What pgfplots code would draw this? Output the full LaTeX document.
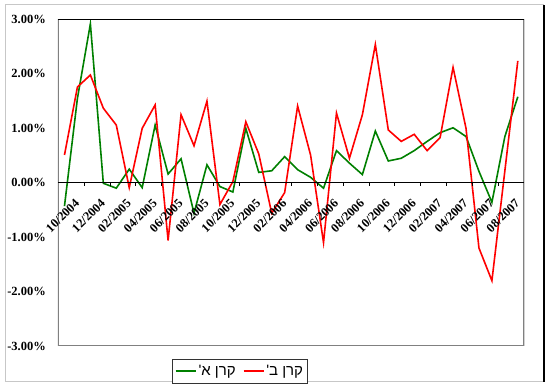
\documentclass[border=0pt]{standalone}
\usepackage{pgfplots}
\usepackage{pgfplotstable}
\pgfplotsset{compat=1.18}
\usepackage{fontspec}
\setmainfont{Liberation Serif}
\newfontfamily\hebfont[Script=Hebrew]{Liberation Sans}
\TeXXeTstate=1
\definecolor{xlgreen}{RGB}{0,128,0}
\definecolor{xlred}{RGB}{255,0,0}
\definecolor{xlgray}{RGB}{128,128,128}
\newcommand{\tlfont}{\fontsize{12.5}{14}\selectfont\bfseries}
\pgfplotstableread{
i red green
0 0.51 -0.43
1 1.76 1.55
2 1.98 2.92
3 1.37 -0.01
4 1.06 -0.10
5 -0.09 0.25
6 1.00 -0.09
7 1.43 1.06
8 -1.06 0.16
9 1.25 0.44
10 0.68 -0.56
11 1.50 0.33
12 -0.40 -0.07
13 0.02 -0.17
14 1.12 1.00
15 0.53 0.19
16 -0.56 0.22
17 -0.18 0.48
18 1.41 0.24
19 0.51 0.10
20 -1.10 -0.10
21 1.28 0.59
22 0.45 0.36
23 1.25 0.15
24 2.54 0.95
25 0.97 0.40
26 0.76 0.45
27 0.89 0.59
28 0.59 0.76
29 0.83 0.92
30 2.12 1.01
31 1.00 0.85
32 -1.20 0.21
33 -1.80 -0.36
34 0.22 0.85
35 2.24 1.58
}\datatable
\begin{document}
\begin{tikzpicture}[x=1pt,y=1pt]
\useasboundingbox (0,0) rectangle (550,387);
\fill[white] (0,0) rectangle (550,387);
\draw[black!22, line width=1pt] (5,5) -- (5,382) -- (544,382);
\draw[black!22, line width=1pt] (5,5.5) -- (544,5.5);
\draw[black, line width=1.2pt] (544,5) -- (544,382);
\begin{axis}[
  at={(58pt,41pt)}, anchor=south west,
  width=466.3pt, height=326.5pt, scale only axis,
  xmin=-0.5, xmax=35.5, ymin=-3, ymax=3,
  xtick=\empty,
  ytick={-3,-2,-1,0,1,2,3},
  yticklabels={-3.00\%,-2.00\%,-1.00\%,0.00\%,1.00\%,2.00\%,3.00\%},
  major tick length=0pt,
  yticklabel style={anchor=east, inner sep=0pt, xshift=-12pt, font=\tlfont},
  axis line style={draw=none},
  legend style={at={(0.2445,-0.0398)}, anchor=north west, draw=black!80, fill=white,
    line width=0.8pt, font=\hebfont\fontsize{15}{17}\selectfont,
    inner xsep=2.5pt, inner ysep=4pt,
    /tikz/every even column/.append style={column sep=5pt}},
  legend columns=2,
  legend image code/.code={\draw[#1] (0pt,0pt) -- (20pt,0pt);},
]
\addplot[xlgreen, line width=1.6pt] table[x=i, y=green] {\datatable};
\addlegendentry{\beginR קרן א'\endR}
\addplot[xlred, line width=1.6pt] table[x=i, y=red] {\datatable};
\addlegendentry{\beginR קרן ב'\endR}
\draw[xlgray, line width=1.6pt] (rel axis cs:0,1) -- (rel axis cs:0,0) -- (rel axis cs:1,0) -- (rel axis cs:1,1);
\draw[black, line width=0.9pt] (rel axis cs:0,1) -- (rel axis cs:1,1);
\end{axis}
\begin{axis}[
  at={(58pt,41pt)}, anchor=south west,
  width=466.3pt, height=326.5pt, scale only axis,
  xmin=-0.5, xmax=35.5, ymin=-3, ymax=3,
  axis x line=middle, axis y line=none,
  x axis line style={-, black, line width=0.9pt},
  xtick={1.5,3.5,5.5,7.5,9.5,11.5,13.5,15.5,17.5,19.5,21.5,23.5,25.5,27.5,29.5,31.5,33.5},
  xticklabels={},
  xtick align=outside, major tick length=3pt,
  xtick style={black, line width=0.6pt},
  extra x ticks={0,2,4,6,8,10,12,14,16,18,20,22,24,26,28,30,32,34},
  extra x tick labels={10/2004,12/2004,02/2005,04/2005,06/2005,08/2005,10/2005,12/2005,02/2006,04/2006,06/2006,08/2006,10/2006,12/2006,02/2007,04/2007,06/2007,08/2007},
  extra x tick style={major tick length=0pt, xticklabel style={rotate=45, anchor=east, inner sep=0pt, xshift=-4pt, yshift=-22pt, font=\tlfont}},
]
\end{axis}
\end{tikzpicture}
\end{document}
